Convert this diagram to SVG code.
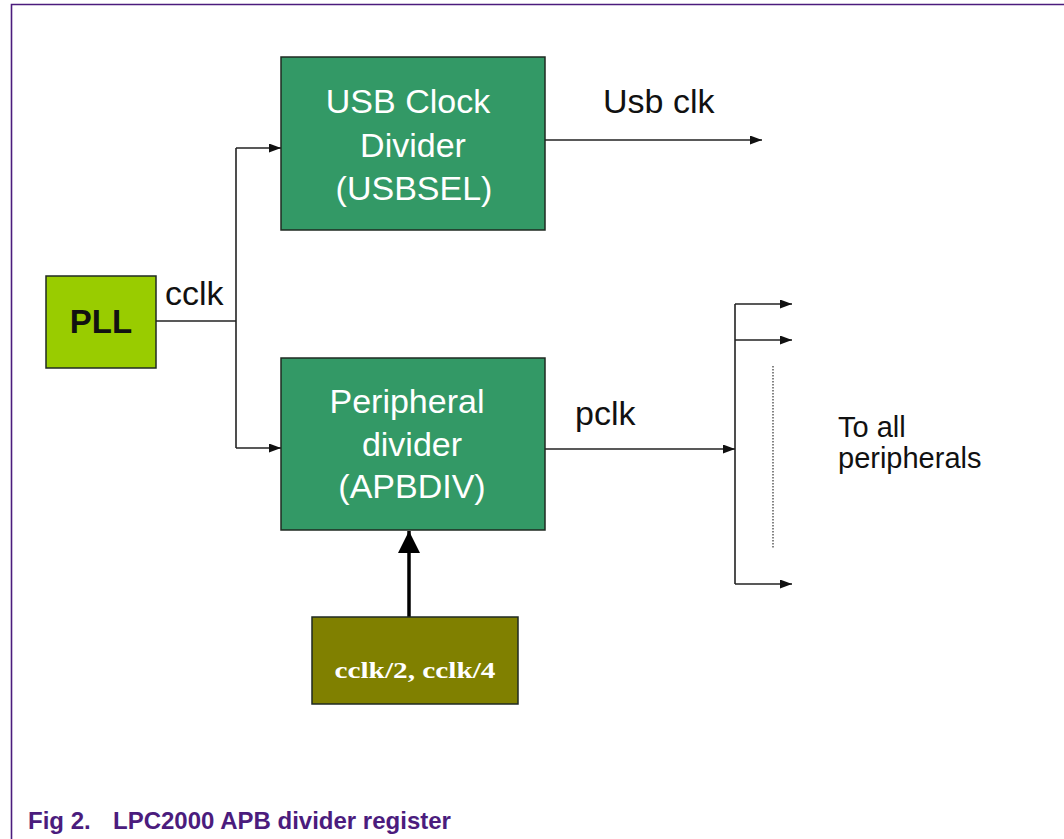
<svg xmlns="http://www.w3.org/2000/svg" width="1064" height="839" viewBox="0 0 1064 839">
<style>
.frame{fill:none;stroke:#4b1c7d;stroke-width:1.6}
.box{stroke:#1f2a22;stroke-width:1.5}
.green{fill:#339966}
.pll{fill:#99cc00}
.olive{fill:#808000}
.wt{font-family:"Liberation Sans",Arial,sans-serif;font-size:34px;fill:#ffffff;text-anchor:middle}
.lbl{font-family:"Liberation Sans",Arial,sans-serif;font-size:34px;fill:#111111}
.wire{fill:none;stroke:#222222;stroke-width:1.6}
.cap{font-family:"Liberation Sans",Arial,sans-serif;font-size:24px;font-weight:bold;fill:#4b1c7d}
</style>
<defs>
<marker id="ah" viewBox="0 0 12 9" refX="12" refY="4.5" markerWidth="12" markerHeight="9" markerUnits="userSpaceOnUse" orient="auto">
<path d="M0,0 L12,4.5 L0,9 Z" fill="#111111"/>
</marker>
<marker id="big" viewBox="0 0 22 22" refX="22" refY="11" markerWidth="22" markerHeight="22" markerUnits="userSpaceOnUse" orient="auto">
<path d="M0,0 L22,11 L0,22 Z" fill="#000000"/>
</marker>
</defs>
<rect width="1064" height="839" fill="#ffffff"/>
<path class="frame" d="M11.5,839 L11.5,4.5 L1064,4.5"/>

<g id="connectors">
<path class="wire" d="M156,321 L236,321"/>
<path class="wire" d="M236,148 L236,448"/>
<path class="wire" d="M236,148 L281,148" marker-end="url(#ah)"/>
<path class="wire" d="M236,448 L281,448" marker-end="url(#ah)"/>
<path class="wire" d="M545,140 L762,140" marker-end="url(#ah)"/>
<path class="wire" d="M545,449 L735,449" marker-end="url(#ah)"/>
<path class="wire" d="M735,304 L735,584"/>
<path class="wire" d="M735,304 L792,304" marker-end="url(#ah)"/>
<path class="wire" d="M735,340 L792,340" marker-end="url(#ah)"/>
<path class="wire" d="M735,584 L792,584" marker-end="url(#ah)"/>
<path d="M773,366 L773,548" fill="none" stroke="#333333" stroke-width="1.2" stroke-dasharray="1.5 1.5"/>
<path d="M409,617 L409,531" fill="none" stroke="#000000" stroke-width="3.5" marker-end="url(#big)"/>
</g>

<g id="pll">
<rect class="box pll" x="46" y="276" width="110" height="92"/>
<text x="101" y="333" font-family="'Liberation Sans',Arial,sans-serif" font-size="33" font-weight="bold" fill="#111111" text-anchor="middle">PLL</text>
</g>

<g id="usb">
<rect class="box green" x="281" y="57" width="264" height="173"/>
<text class="wt" x="408" y="113">USB Clock</text>
<text class="wt" x="413" y="157">Divider</text>
<text class="wt" x="414" y="200">(USBSEL)</text>
</g>

<g id="periph">
<rect class="box green" x="281" y="358" width="264" height="172"/>
<text class="wt" x="407" y="413">Peripheral</text>
<text class="wt" x="412" y="456">divider</text>
<text class="wt" x="412" y="498">(APBDIV)</text>
</g>

<g id="sel">
<rect class="box olive" x="312" y="617" width="206" height="87"/>
<text x="415" y="678" font-family="'Liberation Serif','Times New Roman',serif" font-size="24" font-weight="bold" fill="#ffffff" text-anchor="middle" textLength="161" lengthAdjust="spacingAndGlyphs">cclk/2, cclk/4</text>
</g>

<g id="labels">
<text class="lbl" x="165" y="305">cclk</text>
<text class="lbl" x="603" y="113">Usb clk</text>
<text class="lbl" x="575" y="425">pclk</text>
<text class="lbl" x="838" y="437" style="font-size:29px">To all</text>
<text class="lbl" x="838" y="468" style="font-size:29px">peripherals</text>
</g>

<g id="caption">
<text class="cap" x="28" y="829">Fig 2.</text>
<text class="cap" x="113" y="829">LPC2000 APB divider register</text>
</g>
</svg>
